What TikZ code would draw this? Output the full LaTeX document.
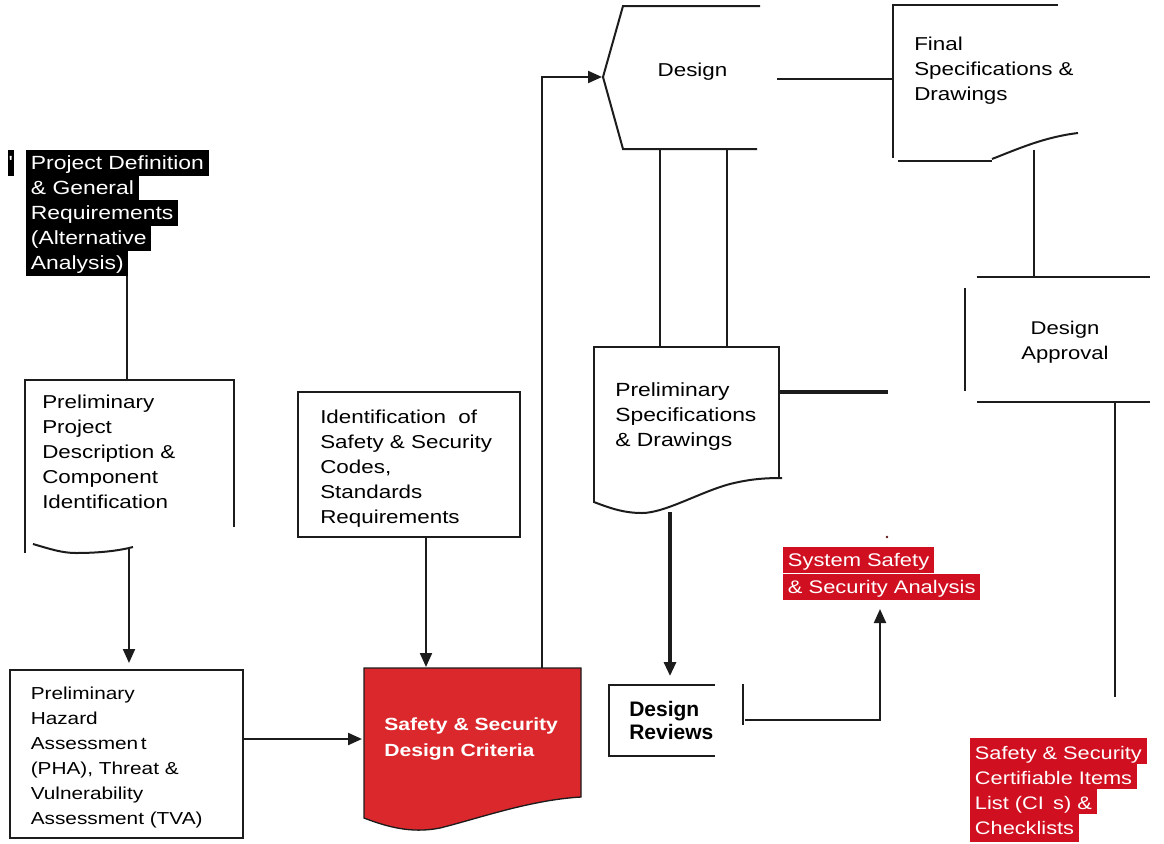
\documentclass[tikz,border=0pt]{standalone}
\usepackage{fontspec}
\setmainfont{Liberation Sans}
\newfontfamily\wide{Liberation Sans}[FakeStretch=1.2]
\usetikzlibrary{arrows.meta}

\definecolor{ink}{RGB}{28,28,28}
\definecolor{hlred}{RGB}{208,16,32}
\definecolor{boxred}{RGB}{219,40,44}

\tikzset{
  conn/.style={draw=ink, line width=1.6pt},
  flow/.style={conn, -{Triangle[length=10.5pt,width=9pt]}},
  frame/.style={draw=ink, line width=1.5pt},
  boxtext/.style={font=\wide\fontsize{14}{18.75}\selectfont, align=left,
    inner sep=0pt, anchor=north west, text=black},
  hl/.style={font=\wide\fontsize{14}{18.75}\selectfont, inner xsep=3.5pt,
    inner ysep=0pt, text height=14.4pt, text depth=5.25pt, anchor=base west,
    text=white},
}

\begin{document}
\begin{tikzpicture}[x=0.75pt, y=-0.75pt]
\useasboundingbox (0,0) rectangle (1164,843);

% ---------- project definition (highlighted lines) ----------
\begin{scope}[every node/.append style={hl, fill=black, font=\wide\fontsize{14.3}{18.75}\selectfont}]
  \node[inner xsep=0.6pt] (tick) at (7.5,169) {'};
  \node (pd1) at (26,169) {Project Definition};
  \node (pd2) at (26,194) {\& General};
  \node (pd3) at (26,219) {Requirements};
  \node (pd4) at (26,244) {(Alternative};
  \node (pd5) at (26,269) {Analysis)};
\end{scope}

% ---------- preliminary project description ----------
\draw[frame] (25,553) -- (25,380) -- (234,380) -- (234,527);
\draw[frame] (33,544) .. controls (50,549) and (62,553) .. (76,553)
             .. controls (98,553) and (118,551) .. (133,547);
\node[boxtext] (pp) at (42,394.7)
  {Preliminary\\Project\\Description \&\\Component\\Identification};
\coordinate (ppTop) at (127,380);
\coordinate (ppOut) at (129,549);

% ---------- preliminary hazard assessment ----------
\draw[frame] (10,670) rectangle (243,838);
\node[boxtext, font=\wide\fontsize{13}{18.75}\selectfont] (pha) at (30.5,686.4)
  {Preliminary\\Hazard\\Assessmen\hspace{2pt}t\\(PHA), Threat \&\\Vulnerability\\Assessment (TVA)};
\coordinate (phaTop) at (129,663);
\coordinate (phaOut) at (243,739);

% ---------- identification of codes ----------
\draw[frame] (298,392) rectangle (520,537);
\node[boxtext] (ident) at (320,409.7)
  {Identification\ \ of\\Safety \& Security\\Codes,\\Standards\\Requirements};
\coordinate (identOut) at (426,537);

% ---------- safety & security design criteria ----------
\path[fill=boxred, draw=ink, line width=1pt]
  (364,668) -- (581,668) -- (581,797)
  .. controls (530,800) and (480,818) .. (440,828)
  .. controls (410,834) and (385,826) .. (364,818) -- cycle;
\node[boxtext, text=white, font=\wide\bfseries\fontsize{13.2}{19.5}\selectfont]
  (crit) at (384,717) {Safety \& Security\\Design Criteria};
\coordinate (critTop) at (426,667);
\coordinate (critIn) at (362,739);
\coordinate (critUp) at (542,668);
\coordinate (bend) at (542,77);

% ---------- design ----------
\draw[frame] (760,6) -- (623,6) -- (603,77) -- (623,149) -- (757,149);
\node[font=\wide\fontsize{14}{18.75}\selectfont, inner sep=0pt, anchor=base]
  (design) at (692.5,76) {Design};
\coordinate (designIn) at (602,77);
\coordinate (designOut) at (777,79);
\coordinate (designDownA) at (660,149);
\coordinate (designDownB) at (727,149);

% ---------- final specifications ----------
\draw[frame] (1058,5) -- (893,5) -- (893,158);
\draw[frame] (898,161) -- (992,161);
\draw[frame] (992,159) .. controls (1020,148) and (1045,137) .. (1078,133);
\node[boxtext] (final) at (914,36.4) {Final\\Specifications \&\\Drawings};
\coordinate (finalIn) at (893,79);
\coordinate (finalOut) at (1034,150);

% ---------- design approval ----------
\draw[frame] (977,277) -- (1150,277);
\draw[frame] (965,288) -- (965,391);
\draw[frame] (977,402) -- (1150,402);
\node[boxtext, align=center, anchor=north, font=\wide\fontsize{13.8}{18.75}\selectfont]
  (appr) at (1065,320.4) {Design\\Approval};
\coordinate (apprTop) at (1034,277);
\coordinate (apprOut) at (1115,402);
\coordinate (apprEnd) at (1115,697);

% ---------- preliminary specifications ----------
\draw[frame] (594,503) -- (594,347) -- (779,347) -- (779,478);
\draw[frame] (594,502) .. controls (612,509) and (625,513) .. (642,513)
             .. controls (665,513) and (700,492) .. (730,484)
             .. controls (750,479) and (765,478) .. (782,478);
\node[boxtext, font=\wide\fontsize{14.3}{18.75}\selectfont] (prel) at (615,382.4)
  {Preliminary\\Specifications\\\& Drawings};
\coordinate (prelTopA) at (660,347);
\coordinate (prelTopB) at (727,347);
\coordinate (prelOut) at (780,392);
\coordinate (prelEnd) at (888,392);
\coordinate (prelDown) at (670,512);

% ---------- design reviews ----------
\draw[frame] (715,685) -- (609,685) -- (609,756) -- (715,756);
\node[boxtext, font=\bfseries\fontsize{15.75}{17}\selectfont] (rev) at (629,701.4)
  {Design\\Reviews};
\coordinate (revTop) at (670,676);
\coordinate (revBarTop) at (743,684);
\coordinate (revBarBot) at (743,725);
\coordinate (revOut) at (745,720);
\coordinate (revCorner) at (880,720);
\coordinate (ssaIn) at (880,609);

% ---------- system safety analysis (highlighted) ----------
\begin{scope}[every node/.append style={hl, fill=hlred, font=\wide\fontsize{13.7}{18.75}\selectfont}]
  \node (ssa1) at (783,566) {System Safety};
  \node (ssa2) at (783,593) {\& Security Analysis};
\end{scope}
\fill[ink!70!red] (887,537) circle (1.3);

% ---------- certifiable items list (highlighted) ----------
\begin{scope}[every node/.append style={hl, fill=hlred, text height=15.75pt,
    text depth=3.5pt, font=\wide\fontsize{13.6}{18.75}\selectfont}]
  \node (ci1) at (970,759) {Safety \& Security};
  \node (ci2) at (970,784) {Certifiable Items};
  \node (ci3) at (970,809) {List (CI\hspace{7pt}s) \&};
  \node[text depth=6pt] (ci4) at (970,834) {Checklists};
\end{scope}

% ---------- connectors ----------
\draw[conn] (ppTop |- pd5.south) -- (ppTop);
\draw[flow] (ppOut) -- (phaTop);
\draw[flow] (phaOut) -- (critIn);
\draw[flow] (identOut) -- (critTop);
\draw[flow] (critUp) -- (bend) -- (designIn);
\draw[conn] (designOut) -- (finalIn);
\draw[conn] (finalOut) -- (apprTop);
\draw[conn] (apprOut) -- (apprEnd);
\draw[conn] (designDownA) -- (prelTopA);
\draw[conn] (designDownB) -- (prelTopB);
\draw[conn, line width=2.3pt] (prelOut) -- (prelEnd);
\draw[flow, line width=2.3pt] (prelDown) -- (revTop);
\draw[conn] (revBarTop) -- (revBarBot);
\draw[flow] (revOut) -- (revCorner) -- (ssaIn);
\end{tikzpicture}
\end{document}
